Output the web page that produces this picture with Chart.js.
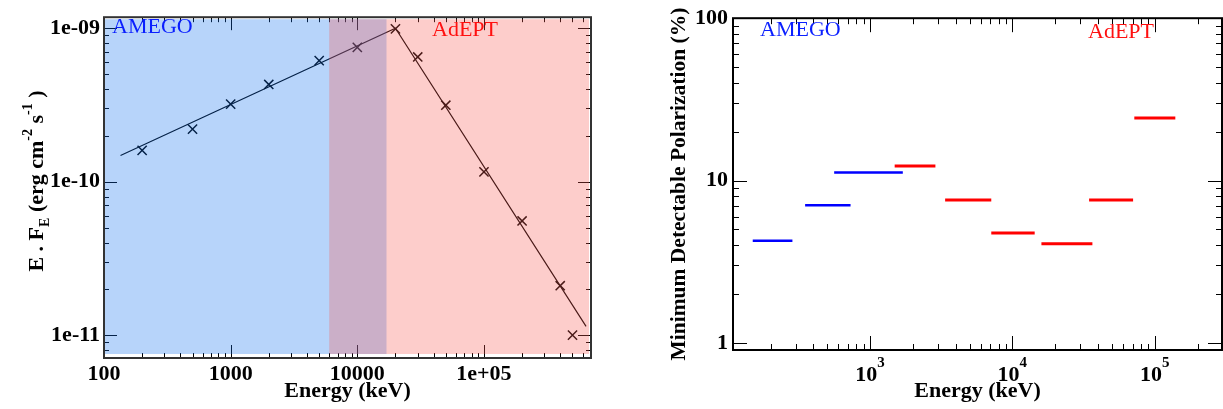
<!DOCTYPE html>
<html>
<head>
<meta charset="utf-8">
<script src="https://cdn.jsdelivr.net/npm/chart.js@4.4.1/dist/chart.umd.min.js"></script>
<style>
  html, body { margin: 0; padding: 0; background: #fff; }
  #wrap { position: relative; width: 1223px; height: 409px; }
  #specChart { position: absolute; left: 0; top: 0; }
  #mdpChart { position: absolute; left: 600px; top: 0; }
</style>
</head>
<body>
<div id="wrap">
  <canvas id="specChart" width="600" height="409"></canvas>
  <canvas id="mdpChart" width="623" height="409"></canvas>
</div>
<script>
// ---- left panel: E.F_E spectrum ----
const specEnergy = [200, 500, 1000, 2000, 5000, 10000, 20000, 30000, 50000, 100000, 200000, 400000, 500000];
const specFlux = [1.6e-10, 2.2e-10, 3.2e-10, 4.3e-10, 6.15e-10, 7.5e-10, 9.9e-10, 6.5e-10, 3.15e-10, 1.16e-10, 5.55e-11, 2.1e-11, 1.0e-11];
const fitEnergy = [135, 20000, 640000];
const fitFlux = [1.48e-10, 1.0e-9, 1.14e-11];
const bandAmego = [100, 17000];
const bandAdept = [6000, 700000];
const leftXTicks = [100, 1000, 10000, 100000];
const leftXLabels = ['100', '1000', '10000', '1e+05'];
const leftYTicks = [1e-11, 1e-10, 1e-9];
const leftYLabels = ['1e-11', '1e-10', '1e-09'];

// ---- right panel: minimum detectable polarization per energy bin ----
const amegoBins = [[150, 285], [350, 730], [560, 1700]];
const amegoMdp = [4.26, 7.06, 11.2];
const adeptBins = [[1490, 2880], [3370, 7110], [7110, 14350], [16000, 36500], [34600, 70500], [71900, 139600]];
const adeptMdp = [12.3, 7.6, 4.75, 4.08, 7.6, 24.3];
const rightXTicks = [1000, 10000, 100000];
const rightXExp = ['3', '4', '5'];
const rightYTicks = [1, 10, 100];
const rightYLabels = ['1', '10', '100'];

const SERIF = "'Liberation Serif', 'Times New Roman', serif";
Chart.defaults.font.family = SERIF;
Chart.defaults.color = '#000';

// all 1..9 x 10^n positions inside [min,max] for the inward tick marks
function logTicks(min, max) {
  const out = [];
  for (let e = Math.floor(Math.log10(min)); e <= Math.ceil(Math.log10(max)); e++) {
    for (let m = 1; m < 10; m++) {
      const v = m * Math.pow(10, e);
      if (v >= min * 0.999 && v <= max * 1.001) out.push({ v, major: m === 1 });
    }
  }
  return out;
}

function drawTicks(chart, o) {
  const { ctx, chartArea: a, scales: { x, y } } = chart;
  ctx.save();
  ctx.strokeStyle = o.color;
  ctx.lineWidth = 1;
  ctx.beginPath();
  logTicks(x.min, x.max).forEach(t => {
    const px = Math.round(x.getPixelForValue(t.v)) + 0.5;
    const len = t.major ? o.major : o.minor;
    ctx.moveTo(px, a.bottom); ctx.lineTo(px, a.bottom - len);
    ctx.moveTo(px, a.top); ctx.lineTo(px, a.top + len);
  });
  logTicks(y.min, y.max).forEach(t => {
    const py = Math.round(y.getPixelForValue(t.v)) + 0.5;
    const len = t.major ? o.major : o.minor;
    ctx.moveTo(a.left, py); ctx.lineTo(a.left + len, py);
    ctx.moveTo(a.right, py); ctx.lineTo(a.right - len, py);
  });
  ctx.stroke();
  ctx.restore();
}

function drawFrame(chart, color) {
  const { ctx, chartArea: a } = chart;
  ctx.save();
  ctx.strokeStyle = color;
  ctx.lineWidth = 2;
  ctx.strokeRect(a.left, a.top, a.right - a.left, a.bottom - a.top);
  ctx.restore();
}

function label(ctx, text, x, y, color) {
  ctx.save();
  ctx.font = '22px ' + SERIF;
  ctx.fillStyle = color;
  ctx.textBaseline = 'middle';
  ctx.fillText(text, x, y);
  ctx.restore();
}

// =====================
// Left: spectrum
// =====================
const specPlugin = {
  id: 'specDecor',
  afterDatasetsDraw(chart) {
    const { ctx, chartArea: a, scales: { x } } = chart;
    drawTicks(chart, { color: '#000', major: 13, minor: 5 });
    // instrument bands, painted over the data like the original
    ctx.save();
    const top = a.top + 2, bot = a.bottom - 4;
    const x0 = x.getPixelForValue(bandAmego[0]), x1 = x.getPixelForValue(bandAmego[1]);
    ctx.fillStyle = 'rgba(18,112,238,0.3)';
    ctx.fillRect(x0, top, x1 - x0, bot - top);
    const x2 = x.getPixelForValue(bandAdept[0]), x3 = Math.min(x.getPixelForValue(bandAdept[1]), a.right - 2);
    ctx.fillStyle = 'rgba(248,88,82,0.3)';
    ctx.fillRect(x2, top, x3 - x2, bot - top);
    ctx.restore();
    drawFrame(chart, '#333');
    label(ctx, 'AMEGO', a.left + 8, 27, '#0a1fff');
    label(ctx, 'AdEPT', 432, 30, '#ff1010');
  },
  afterDraw(chart) {
    // y title with sub/superscripts
    const ctx = chart.ctx;
    const parts = [
      { t: 'E . F', s: 22, dy: 0 },
      { t: 'E', s: 14, dy: 6 },
      { t: ' (erg cm', s: 22, dy: 0 },
      { t: '-2', s: 14, dy: -11 },
      { t: ' s', s: 22, dy: 0 },
      { t: '-1', s: 14, dy: -11 },
      { t: ' )', s: 22, dy: 0 }
    ];
    ctx.save();
    let total = 0;
    parts.forEach(p => { ctx.font = 'bold ' + p.s + 'px ' + SERIF; p.w = ctx.measureText(p.t).width; total += p.w; });
    ctx.translate(43, 181);
    ctx.rotate(-Math.PI / 2);
    ctx.fillStyle = '#000';
    ctx.textBaseline = 'alphabetic';
    let u = -total / 2;
    parts.forEach(p => {
      ctx.font = 'bold ' + p.s + 'px ' + SERIF;
      ctx.fillText(p.t, u, p.dy);
      u += p.w;
    });
    ctx.restore();
  }
};

new Chart(document.getElementById('specChart'), {
  type: 'scatter',
  data: {
    datasets: [
      {
        data: fitEnergy.map((e, i) => ({ x: e, y: fitFlux[i] })),
        showLine: true,
        borderColor: '#000',
        borderWidth: 1.2,
        pointRadius: 0
      },
      {
        data: specEnergy.map((e, i) => ({ x: e, y: specFlux[i] })),
        pointStyle: 'crossRot',
        pointRadius: 6.5,
        borderColor: '#000',
        borderWidth: 1.5
      }
    ]
  },
  options: {
    responsive: false,
    animation: false,
    layout: { padding: { top: 4, right: 9, left: 0, bottom: 0 } },
    plugins: { legend: { display: false }, tooltip: { enabled: false } },
    scales: {
      x: {
        type: 'logarithmic',
        min: 100, max: 700000,
        grid: { display: false, drawTicks: false },
        border: { display: false },
        afterBuildTicks: s => { s.ticks = leftXTicks.map(v => ({ value: v })); },
        afterFit: s => { s.height = 51; },
        ticks: {
          autoSkip: false, maxRotation: 0, padding: 3,
          font: { size: 22, weight: 'bold' },
          callback: (v, i) => leftXLabels[i]
        },
        title: { display: true, text: 'Energy (keV)', font: { size: 22, weight: 'bold' }, padding: { top: 0, bottom: 4 } }
      },
      y: {
        type: 'logarithmic',
        min: 7.1e-12, max: 1.18e-9,
        grid: { display: false, drawTicks: false },
        border: { display: false },
        afterBuildTicks: s => { s.ticks = leftYTicks.map(v => ({ value: v })); },
        afterFit: s => { s.width = 104; },
        ticks: {
          autoSkip: false, padding: 4,
          font: { size: 22, weight: 'bold' },
          callback: (v, i) => leftYLabels[i]
        }
      }
    }
  },
  plugins: [specPlugin]
});

// =====================
// Right: MDP
// =====================
function binSegments(bins, vals) {
  const pts = [];
  bins.forEach((b, i) => {
    pts.push({ x: b[0], y: vals[i] }, { x: b[1], y: vals[i] }, { x: b[1], y: null });
  });
  return pts;
}

const mdpPlugin = {
  id: 'mdpDecor',
  beforeDatasetsDraw(chart) {
    drawTicks(chart, { color: '#000', major: 14, minor: 6 });
  },
  afterDatasetsDraw(chart) {
    drawFrame(chart, '#000');
    const { ctx, scales: { x } } = chart;
    label(ctx, 'AMEGO', 160, 30, '#0a1fff');
    label(ctx, 'AdEPT', 488, 32, '#ff1010');
    // 10^n tick labels
    ctx.save();
    ctx.fillStyle = '#000';
    ctx.textBaseline = 'alphabetic';
    rightXTicks.forEach((v, i) => {
      const px = x.getPixelForValue(v);
      ctx.font = 'bold 22px ' + SERIF;
      const w1 = ctx.measureText('10').width;
      ctx.font = 'bold 15px ' + SERIF;
      const w2 = ctx.measureText(rightXExp[i]).width;
      const left = px - (w1 + w2) / 2;
      ctx.font = 'bold 22px ' + SERIF;
      ctx.fillText('10', left, 381);
      ctx.font = 'bold 15px ' + SERIF;
      ctx.fillText(rightXExp[i], left + w1, 367);
    });
    ctx.restore();
  }
};

new Chart(document.getElementById('mdpChart'), {
  type: 'scatter',
  data: {
    datasets: [
      {
        data: binSegments(amegoBins, amegoMdp),
        showLine: true, spanGaps: false,
        borderColor: '#0000ff', borderWidth: 2.5, borderCapStyle: 'butt',
        pointRadius: 0
      },
      {
        data: binSegments(adeptBins, adeptMdp),
        showLine: true, spanGaps: false,
        borderColor: '#ff0000', borderWidth: 3, borderCapStyle: 'butt',
        pointRadius: 0
      }
    ]
  },
  options: {
    responsive: false,
    animation: false,
    layout: { padding: { top: 7, right: 1, left: 0, bottom: 0 } },
    plugins: { legend: { display: false }, tooltip: { enabled: false } },
    scales: {
      x: {
        type: 'logarithmic',
        min: 109, max: 297000,
        grid: { display: false, drawTicks: false },
        border: { display: false },
        afterFit: s => { s.height = 59; },
        ticks: { display: false },
        title: { display: true, text: 'Energy (keV)', font: { size: 22, weight: 'bold' }, padding: { top: 0, bottom: 4 } }
      },
      y: {
        type: 'logarithmic',
        min: 0.905, max: 100,
        grid: { display: false, drawTicks: false },
        border: { display: false },
        afterBuildTicks: s => { s.ticks = rightYTicks.map(v => ({ value: v })); },
        afterFit: s => { s.width = 133; },
        ticks: {
          autoSkip: false, padding: 5,
          font: { size: 22, weight: 'bold' },
          callback: (v, i) => rightYLabels[i]
        },
        title: { display: true, text: 'Minimum Detectable Polarization (%)', font: { size: 21.5, weight: 'bold' }, padding: { top: 67, bottom: 0 } }
      }
    }
  },
  plugins: [mdpPlugin]
});
</script>
</body>
</html>
